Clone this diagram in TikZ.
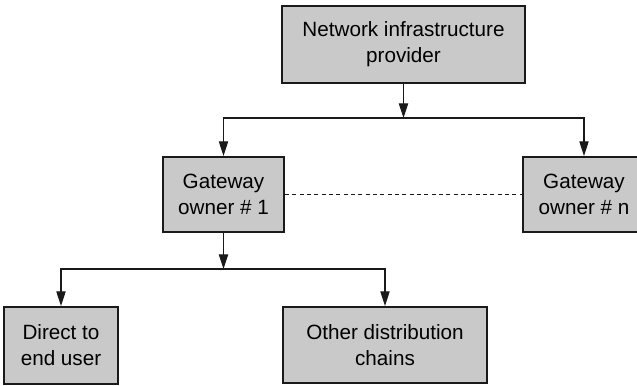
\documentclass[tikz,border=0pt]{standalone}
\usepackage{fontspec}
\setmainfont{Liberation Sans}
\usepackage{xcolor}
\usepackage{tikz}
\usetikzlibrary{arrows.meta,positioning}
\definecolor{boxc}{HTML}{C9C9C9}
\definecolor{linec}{HTML}{1A1A1A}
\tikzset{
  ar/.style={-{Triangle[length=11pt,width=7pt]},line width=0.8pt,linec},
  box/.style={draw=linec,line width=1.6pt,fill=boxc,align=center,inner sep=2pt,
    font=\fontsize{15.5}{19.5}\selectfont},
  dl/.style={line width=0.8pt,linec,dash pattern=on 3pt off 2.5pt}
}
\begin{document}
\begin{tikzpicture}[x=0.75pt,y=-0.75pt]
\clip (0,0) rectangle (637,386);
\fill[white] (0,0) rectangle (637,386);
\node[box,minimum width=243*0.75pt,minimum height=77*0.75pt] (prov) at (403.5,44.5) {Network infrastructure\\provider};
\node[box,minimum width=121*0.75pt,minimum height=75*0.75pt] (gwa) at (223.5,194.5) {Gateway\\owner \# 1};
\node[box,minimum width=122*0.75pt,minimum height=75*0.75pt] (gwn) at (584,194.5) {Gateway\\owner \# n};
\node[box,minimum width=114*0.75pt,minimum height=77*0.75pt] (direct) at (61,345.5) {Direct to\\end user};
\node[box,minimum width=204*0.75pt,minimum height=76*0.75pt] (other) at (385,345) {Other distribution\\chains};
\coordinate (splitA) at (403.5,118);
\coordinate (splitB) at (223.5,269);
% provider to gateways
\draw[ar] (prov) -- (splitA);
\draw[ar] (splitA) -| (gwa);
\draw[ar] (splitA) -| (gwn);
\draw[dl] (gwa) -- (gwn);
% gateway to channels
\draw[ar] (gwa) -- (splitB);
\draw[ar] (splitB) -| (direct);
\draw[ar] (splitB) -| (other);
\end{tikzpicture}
\end{document}
